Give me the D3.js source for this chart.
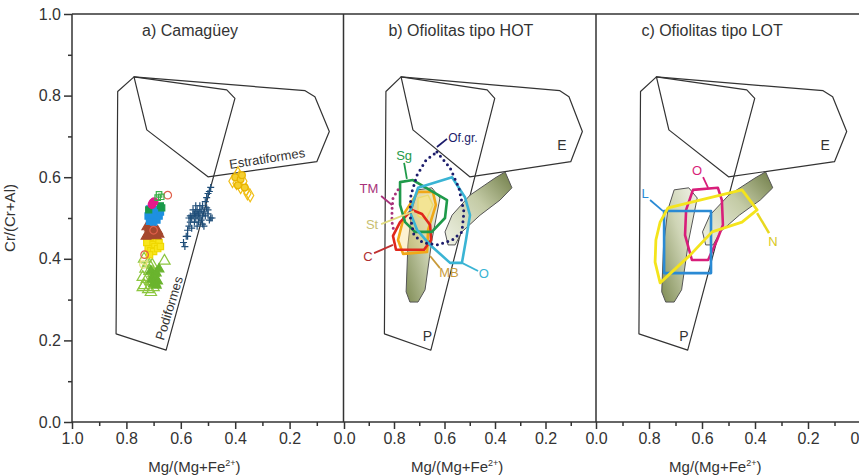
<!DOCTYPE html>
<html>
<head>
<meta charset="utf-8">
<script src="https://cdn.jsdelivr.net/npm/d3@7"></script>
<style>
  body { margin: 0; background: #fff; }
  text { font-family: "Liberation Sans", Arial, sans-serif; fill: #333; }
</style>
</head>
<body>
<svg id="chart" width="859" height="476"></svg>
<script>
// ---- data (x = Mg/(Mg+Fe2+), y = Cr/(Cr+Al)) ----
var panelTitles = ["a) Camagüey", "b) Ofiolitas tipo HOT", "c) Ofiolitas tipo LOT"];
var majorTicks = [1.0, 0.8, 0.6, 0.4, 0.2, 0.0];
var minorTicks = [0.9, 0.7, 0.5, 0.3, 0.1];

// reference fields
var podiform = [[0.832,0.810],[0.772,0.846],[0.431,0.814],[0.401,0.793],[0.654,0.176],[0.838,0.216]];
var estratiform = [[0.772,0.846],[0.143,0.812],[0.107,0.797],[0.054,0.712],[0.100,0.638],[0.500,0.601],[0.725,0.716]];
var shadeTall = [[0.705,0.569],[0.650,0.574],[0.618,0.549],[0.650,0.446],[0.677,0.324],[0.705,0.294],[0.737,0.294],[0.752,0.319],[0.745,0.434],[0.729,0.520]];
var shadeDiag = [[0.586,0.434],[0.598,0.466],[0.570,0.507],[0.499,0.556],[0.400,0.598],[0.360,0.613],[0.333,0.574],[0.380,0.544],[0.459,0.507],[0.531,0.466],[0.558,0.434]];

// panel a: Camagüey samples
var crossNavy = [[0.59,0.44],[0.585,0.43],[0.58,0.455],[0.575,0.47],[0.57,0.48],[0.565,0.49],[0.56,0.5],[0.555,0.505],[0.55,0.51],[0.545,0.515],[0.54,0.52],[0.535,0.51],[0.53,0.5],[0.525,0.52],[0.52,0.53],[0.515,0.515],[0.51,0.505],[0.505,0.525],[0.5,0.51],[0.495,0.495],[0.49,0.5],[0.55,0.49],[0.545,0.5],[0.535,0.49],[0.525,0.495],[0.515,0.48],[0.56,0.475],[0.53,0.53],[0.51,0.54],[0.505,0.55],[0.495,0.565],[0.49,0.575],[0.5,0.56],[0.485,0.5],[0.545,0.53],[0.54,0.48],[0.52,0.485],[0.555,0.52],[0.565,0.505],[0.53,0.515],[0.52,0.505],[0.57,0.5],[0.575,0.455],[0.5,0.52],[0.54,0.505]];
var goldOpen = [[0.41,0.59],[0.395,0.585],[0.385,0.6],[0.37,0.59],[0.36,0.57],[0.345,0.555],[0.38,0.575],[0.39,0.61],[0.355,0.56]];
var goldFilled = [[0.4,0.6],[0.39,0.58],[0.38,0.595],[0.375,0.605],[0.365,0.575]];
var greenRect = [[0.68,0.558],[0.672,0.552],[0.685,0.55]];
var salmonCircle = [[0.648,0.556],[0.733,0.41],[0.7,0.47]];
var magentaDot = [[0.703,0.537],[0.698,0.54],[0.706,0.533]];
var darkGreenSq = [[0.675,0.53],[0.67,0.525],[0.718,0.52]];
var blueSq = [[0.715,0.522],[0.708,0.515],[0.7,0.52],[0.69,0.51],[0.72,0.505],[0.71,0.5],[0.695,0.5],[0.68,0.505],[0.688,0.495],[0.7,0.49],[0.715,0.492],[0.675,0.515],[0.705,0.508]];
var brownTri = [[0.725,0.478],[0.715,0.475],[0.705,0.47],[0.695,0.472],[0.685,0.468],[0.72,0.462],[0.71,0.458],[0.7,0.462],[0.69,0.456],[0.68,0.46],[0.728,0.455]];
var yellowSq = [[0.72,0.452],[0.71,0.448],[0.7,0.45],[0.69,0.445],[0.68,0.44],[0.715,0.438],[0.705,0.435],[0.695,0.43],[0.72,0.425],[0.71,0.42],[0.7,0.418],[0.685,0.425],[0.715,0.41],[0.675,0.43],[0.725,0.44]];
var paleCircle = [[0.738,0.386],[0.735,0.395]];
var limeTriOpen = [[0.735,0.4],[0.72,0.39],[0.705,0.385],[0.73,0.375],[0.715,0.37],[0.7,0.365],[0.66,0.395],[0.74,0.355],[0.725,0.35],[0.71,0.345],[0.695,0.34],[0.735,0.335],[0.72,0.325],[0.7,0.33],[0.71,0.318],[0.74,0.33]];
var greenTri = [[0.71,0.37],[0.7,0.36],[0.69,0.365],[0.705,0.35],[0.695,0.355],[0.685,0.345],[0.7,0.34],[0.69,0.335],[0.68,0.375]];

// panel b: HOT ophiolites
var ofgr = [[0.630,0.662],[0.578,0.623],[0.543,0.574],[0.523,0.515],[0.531,0.466],[0.570,0.446],[0.626,0.434],[0.685,0.439],[0.721,0.458],[0.737,0.507],[0.733,0.556],[0.709,0.605],[0.673,0.642],[0.630,0.662]];
var tm = [[0.784,0.569],[0.804,0.549],[0.808,0.520],[0.808,0.490],[0.800,0.466]];
var sg = [[0.776,0.588],[0.725,0.593],[0.590,0.544],[0.598,0.500],[0.650,0.466],[0.717,0.466],[0.756,0.490],[0.776,0.532]];
var oHot = [[0.705,0.574],[0.570,0.600],[0.519,0.551],[0.499,0.507],[0.515,0.446],[0.531,0.390],[0.578,0.390],[0.657,0.434],[0.709,0.471],[0.737,0.515]];
var mb = [[0.705,0.564],[0.646,0.564],[0.634,0.532],[0.665,0.471],[0.669,0.417],[0.764,0.412],[0.784,0.446],[0.756,0.515]];
var st = [[0.705,0.549],[0.665,0.556],[0.646,0.532],[0.673,0.495],[0.705,0.505]];
var c = [[0.729,0.520],[0.689,0.510],[0.657,0.483],[0.653,0.446],[0.681,0.422],[0.792,0.422],[0.804,0.456],[0.776,0.490]];

// panel c: LOT ophiolites
var lRect = [[0.743,0.517],[0.566,0.517],[0.566,0.365],[0.743,0.365]];
var oLot = [[0.634,0.569],[0.540,0.574],[0.525,0.544],[0.521,0.483],[0.543,0.446],[0.577,0.397],[0.638,0.397],[0.664,0.458],[0.660,0.520]];
var nPoly = [[0.728,0.525],[0.608,0.544],[0.449,0.569],[0.392,0.520],[0.449,0.490],[0.562,0.466],[0.645,0.409],[0.758,0.341],[0.777,0.392],[0.774,0.446],[0.758,0.490]];

// ---- layout ----
var svg = d3.select("#chart");
var y = d3.scaleLinear().domain([0, 1]).range([422, 14]);
var xRanges = [[72, 344], [343.5, 596], [596, 861]];
var xs = xRanges.map(function (r) { return d3.scaleLinear().domain([1, 0]).range(r); });
var titleAt = [0.566, 0.535, 0.562];

var defs = svg.append("defs");
var g1 = defs.append("linearGradient").attr("id", "gTall")
    .attr("x1", 0).attr("y1", 1).attr("x2", 1).attr("y2", 0);
g1.append("stop").attr("offset", "0%").attr("stop-color", "#7f8c55");
g1.append("stop").attr("offset", "55%").attr("stop-color", "#cfd5b6");
g1.append("stop").attr("offset", "100%").attr("stop-color", "#f2f3ea");
var g2 = defs.append("linearGradient").attr("id", "gDiag")
    .attr("x1", 0).attr("y1", 1).attr("x2", 1).attr("y2", 0);
g2.append("stop").attr("offset", "0%").attr("stop-color", "#f0f2e6");
g2.append("stop").attr("offset", "55%").attr("stop-color", "#c4cba6");
g2.append("stop").attr("offset", "100%").attr("stop-color", "#6f7c47");

function liner(x) {
  return d3.line().x(function (d) { return x(d[0]); }).y(function (d) { return y(d[1]); });
}
function poly(g, x, pts, stroke, width, fill) {
  return g.append("path")
    .attr("d", liner(x)(pts) + "Z")
    .attr("fill", fill || "none")
    .attr("stroke", stroke)
    .attr("stroke-width", width)
    .attr("stroke-linejoin", "round");
}
function label(g, x, txt, px, py, color, size) {
  return g.append("text").attr("x", x(px)).attr("y", y(py))
    .attr("text-anchor", "middle").style("font-size", (size || 13) + "px")
    .style("fill", color).text(txt);
}
function pointer(g, x, p0, p1, color, w) {
  g.append("path").attr("d", liner(x)([p0, p1]))
    .attr("stroke", color).attr("stroke-width", w || 1.8).attr("fill", "none");
}

// fields common to all panels
xs.forEach(function (x, i) {
  var g = svg.append("g").attr("class", "panel" + i);
  poly(g, x, podiform, "#333", 1.2);
  poly(g, x, estratiform, "#333", 1.2);
  if (i > 0) {
    poly(g, x, shadeTall, "#555", 1, "url(#gTall)");
    poly(g, x, shadeDiag, "#555", 1, "url(#gDiag)");
    label(g, x, "E", 0.135, 0.667, "#333", 14);
    label(g, x, "P", 0.668, 0.199, "#333", 14);
  }
  svg.append("text").attr("x", x(titleAt[i])).attr("y", 36)
    .attr("text-anchor", "middle").style("font-size", "16px").text(panelTitles[i]);
});

// ---- panel a ----
var xa = xs[0];
var ga = svg.select(".panel0");
ga.append("text")
  .attr("transform", "translate(" + xa(0.283) + "," + y(0.646) + ") rotate(-9)")
  .attr("text-anchor", "middle").attr("dy", "0.35em").style("font-size", "13px").text("Estratiformes");
ga.append("text")
  .attr("transform", "translate(" + xa(0.643) + "," + y(0.279) + ") rotate(-73)")
  .attr("text-anchor", "middle").attr("dy", "0.35em").style("font-size", "13px").text("Podiformes");

var groups = [
  { pts: limeTriOpen, sym: d3.symbolTriangle, size: 55, fill: "none", stroke: "#8cc63f" },
  { pts: greenTri, sym: d3.symbolTriangle, size: 40, fill: "#6ab42e", stroke: "#6ab42e" },
  { pts: paleCircle, sym: d3.symbolCircle, size: 40, fill: "none", stroke: "#e8e27a" },
  { pts: yellowSq, sym: d3.symbolSquare, size: 40, fill: "#f8e61c", stroke: "#f0d800" },
  { pts: brownTri, sym: d3.symbolTriangle, size: 40, fill: "#a5472e", stroke: "#a5472e" },
  { pts: blueSq, sym: d3.symbolSquare, size: 40, fill: "#1e90e0", stroke: "#1e90e0" },
  { pts: darkGreenSq, sym: d3.symbolSquare, size: 36, fill: "#1a9a4a", stroke: "#1a9a4a" },
  { pts: magentaDot, sym: d3.symbolCircle, size: 45, fill: "#e6198a", stroke: "#e6198a" },
  { pts: salmonCircle, sym: d3.symbolCircle, size: 45, fill: "none", stroke: "#e0604a" },
  { pts: greenRect, sym: d3.symbolSquare, size: 30, fill: "none", stroke: "#3cb04a" },
  { pts: goldOpen, sym: d3.symbolDiamond, size: 45, fill: "none", stroke: "#f0be14" },
  { pts: goldFilled, sym: d3.symbolCircle, size: 35, fill: "#f5cf30", stroke: "#e8b400" }
];
groups.forEach(function (s) {
  ga.append("g").selectAll("path").data(s.pts).enter().append("path")
    .attr("transform", function (d) { return "translate(" + xa(d[0]) + "," + y(d[1]) + ")"; })
    .attr("d", d3.symbol().type(s.sym).size(s.size))
    .attr("fill", s.fill).attr("stroke", s.stroke).attr("stroke-width", 1.2);
});
ga.append("g").selectAll("path").data(crossNavy).enter().append("path")
  .attr("transform", function (d) { return "translate(" + xa(d[0]) + "," + y(d[1]) + ")"; })
  .attr("d", "M-3.5,0H3.5M0,-3.5V3.5")
  .attr("stroke", "#1f4e79").attr("stroke-width", 1.2);

// ---- panel b ----
var xb = xs[1];
var gb = svg.select(".panel1");
poly(gb, xb, st, "#e6dc6a", 1.5, "#f1eca2");
poly(gb, xb, mb, "#f0a818", 2.6, "rgba(246,215,122,0.35)");
poly(gb, xb, c, "#e0281c", 2.6);
poly(gb, xb, sg, "#1f9a4a", 2.6);
poly(gb, xb, oHot, "#3ab4d4", 2.6);
gb.append("path").attr("d", liner(xb)(ofgr)).attr("fill", "none")
  .attr("stroke", "#1c1c6b").attr("stroke-width", 3).attr("stroke-linecap", "round")
  .attr("stroke-dasharray", "0,5.5");
gb.append("path").attr("d", liner(xb)(tm)).attr("fill", "none")
  .attr("stroke", "#a8327a").attr("stroke-width", 3).attr("stroke-linecap", "round")
  .attr("stroke-dasharray", "0,5");

pointer(gb, xb, [0.630, 0.674], [0.590, 0.694], "#1c1c6b");
label(gb, xb, "Of.gr.", 0.527, 0.686, "#1c1c6b", 12);
pointer(gb, xb, [0.760, 0.635], [0.749, 0.596], "#1f9a4a");
label(gb, xb, "Sg", 0.760, 0.642, "#1f9a4a");
pointer(gb, xb, [0.851, 0.554], [0.808, 0.532], "#a8327a");
label(gb, xb, "TM", 0.899, 0.561, "#a8327a");
pointer(gb, xb, [0.851, 0.485], [0.721, 0.517], "#e2dc80");
label(gb, xb, "St", 0.887, 0.473, "#c8c070");
pointer(gb, xb, [0.879, 0.414], [0.804, 0.434], "#c03030");
label(gb, xb, "C", 0.903, 0.395, "#b03030");
pointer(gb, xb, [0.657, 0.407], [0.618, 0.377], "#c89a3a");
label(gb, xb, "MB", 0.582, 0.355, "#c89a3a");
pointer(gb, xb, [0.531, 0.390], [0.467, 0.370], "#3ab4d4");
label(gb, xb, "O", 0.444, 0.353, "#3ab4d4");

// ---- panel c ----
var xc = xs[2];
var gc = svg.select(".panel2");
poly(gc, xc, oLot, "#d81e7a", 2.6);
poly(gc, xc, lRect, "#2a8ad4", 2.6);
poly(gc, xc, nPoly, "#f4e41c", 2.8);
pointer(gc, xc, [0.796, 0.544], [0.747, 0.517], "#2a8ad4");
label(gc, xc, "L", 0.815, 0.549, "#2a8ad4");
pointer(gc, xc, [0.596, 0.600], [0.577, 0.574], "#d81e7a");
label(gc, xc, "O", 0.619, 0.605, "#d81e7a");
pointer(gc, xc, [0.392, 0.512], [0.347, 0.463], "#e8d820", 2.5);
label(gc, xc, "N", 0.332, 0.431, "#d8c820");

// ---- frame and axes ----
var frame = svg.append("g").attr("stroke", "#333").attr("stroke-width", 1.5);
frame.append("line").attr("x1", 72).attr("x2", 859).attr("y1", y(1)).attr("y2", y(1));
frame.append("line").attr("x1", 72).attr("x2", 859).attr("y1", y(0)).attr("y2", y(0));
[72, 343.5, 596].forEach(function (px) {
  frame.append("line").attr("x1", px).attr("x2", px).attr("y1", y(1)).attr("y2", y(0));
});

var fmt = d3.format(".1f");
xs.forEach(function (x, i) {
  var major = svg.append("g").attr("transform", "translate(0," + y(0) + ")")
    .call(d3.axisBottom(x).tickValues(i === 0 ? majorTicks : majorTicks.slice(1))
      .tickSize(7).tickPadding(4).tickFormat(fmt));
  var minor = svg.append("g").attr("transform", "translate(0," + y(0) + ")")
    .call(d3.axisBottom(x).tickValues(minorTicks).tickSize(4).tickFormat(""));
  [major, minor].forEach(function (a) {
    a.select(".domain").remove();
    a.selectAll("line").attr("stroke", "#333").attr("stroke-width", 1.5);
    a.selectAll("text").style("font-size", "16px").style("fill", "#333");
  });
  var xl = svg.append("text").attr("x", x(0.55)).attr("y", 472)
    .attr("text-anchor", "middle").style("font-size", "15px");
  xl.append("tspan").text("Mg/(Mg+Fe");
  xl.append("tspan").attr("dy", -6).style("font-size", "9px").text("2+");
  xl.append("tspan").attr("dy", 6).text(")");
});

var ya = svg.append("g").attr("transform", "translate(72,0)")
  .call(d3.axisLeft(y).tickValues([0, 0.2, 0.4, 0.6, 0.8, 1.0]).tickSize(8).tickPadding(3).tickFormat(fmt));
var ym = svg.append("g").attr("transform", "translate(72,0)")
  .call(d3.axisLeft(y).tickValues([0.1, 0.3, 0.5, 0.7, 0.9]).tickSize(4).tickFormat(""));
[ya, ym].forEach(function (a) {
  a.select(".domain").remove();
  a.selectAll("line").attr("stroke", "#333").attr("stroke-width", 1.5);
  a.selectAll("text").style("font-size", "16px").style("fill", "#333");
});
svg.append("text").attr("transform", "translate(15," + y(0.5) + ") rotate(-90)")
  .attr("text-anchor", "middle").style("font-size", "15px").text("Cr/(Cr+Al)");
</script>
</body>
</html>
